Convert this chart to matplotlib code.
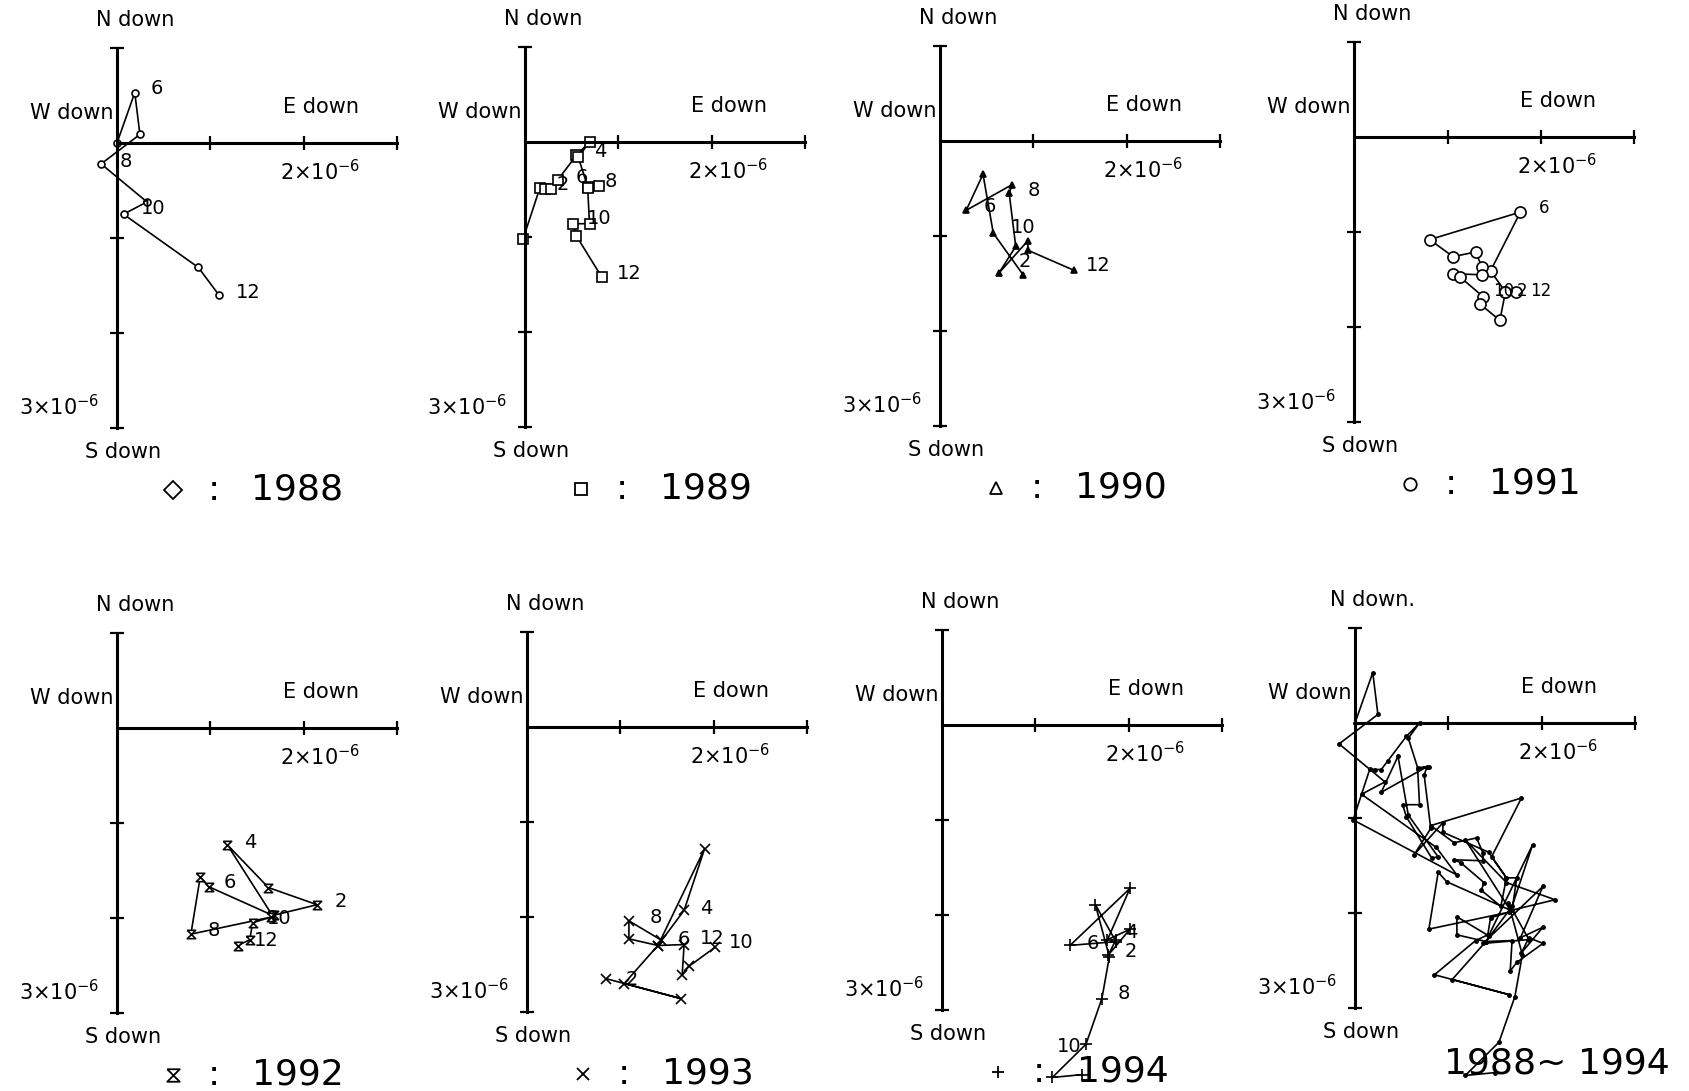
import matplotlib
matplotlib.use('Agg')
import matplotlib.pyplot as plt

plt.rcParams['font.family'] = 'DejaVu Sans'
plt.rcParams['mathtext.fontset'] = 'dejavusans'

# tilt vectors, units of 1e-6 (x: east down, y: north down)
x1988 = [0.0, 0.19, 0.245, -0.17, 0.32, 0.07, 0.87, 1.09]
y1988 = [0.0, 0.53, 0.09, -0.22, -0.62, -0.75, -1.31, -1.60]
x1989 = [-0.02, 0.16, 0.21, 0.28, 0.35, 0.55, 0.69, 0.57, 0.67, 0.79, 0.67, 0.69, 0.51, 0.55, 0.82]
y1989 = [-1.02, -0.48, -0.49, -0.49, -0.40, -0.14, 0.0, -0.16, -0.47, -0.46, -0.48, -0.86, -0.86, -0.99, -1.42]
x1990 = [0.89, 0.57, 0.46, 0.28, 0.77, 0.74, 0.81, 0.63, 0.94, 0.94, 1.43]
y1990 = [-1.41, -0.97, -0.35, -0.73, -0.46, -0.55, -1.11, -1.39, -1.05, -1.15, -1.36]
x1991 = [1.62, 1.46, 1.78, 0.81, 1.06, 1.30, 1.37, 1.37, 1.06, 1.13, 1.38, 1.35, 1.56, 1.62, 1.73]
y1991 = [-1.63, -1.41, -0.79, -1.08, -1.26, -1.21, -1.37, -1.45, -1.44, -1.47, -1.68, -1.76, -1.93, -1.63, -1.63]
x1992 = [1.68, 2.14, 1.62, 1.18, 1.66, 0.98, 0.89, 0.79, 1.65, 1.45, 1.42, 1.29]
y1992 = [-1.97, -1.86, -1.68, -1.23, -1.97, -1.67, -1.57, -2.17, -1.99, -2.05, -2.23, -2.29]
x1993 = [0.85, 1.65, 1.04, 1.40, 1.68, 1.90, 1.43, 1.09, 1.09, 1.40, 1.68, 1.66, 1.73, 2.01]
y1993 = [-2.65, -2.86, -2.70, -2.30, -1.93, -1.28, -2.24, -2.04, -2.23, -2.30, -2.29, -2.61, -2.52, -2.32]
x1994 = [1.86, 1.78, 2.01, 1.77, 2.01, 1.37, 1.86, 1.64, 1.79, 1.71, 1.54, 1.18, 1.50]
y1994 = [-2.26, -2.42, -2.15, -2.26, -1.72, -2.32, -2.28, -1.89, -2.44, -2.88, -3.36, -3.71, -3.68]

# month labels
lab1988 = ['6', '8', '10', '12']
lx1988 = [0.43, 0.09, 0.39, 1.40]
ly1988 = [0.57, -0.19, -0.69, -1.57]
lab1989 = ['2', '4', '6', '8', '10', '12']
lx1989 = [0.40, 0.81, 0.61, 0.92, 0.79, 1.12]
ly1989 = [-0.45, -0.10, -0.37, -0.42, -0.80, -1.38]
lab1990 = ['2', '6', '8', '10', '12']
lx1990 = [0.91, 0.53, 1.00, 0.89, 1.69]
ly1990 = [-1.27, -0.69, -0.52, -0.91, -1.31]
lab1991 = ['6', '10', '2', '12']
lx1991 = [2.03, 1.60, 1.80, 2.00]
ly1991 = [-0.75, -1.62, -1.62, -1.62]
lab1992 = ['2', '4', '6', '8', '10', '12']
lx1992 = [2.39, 1.43, 1.21, 1.04, 1.73, 1.60]
ly1992 = [-1.83, -1.21, -1.63, -2.13, -2.01, -2.24]
lab1993 = ['2', '4', '6', '8', '10', '12']
lx1993 = [1.12, 1.92, 1.68, 1.38, 2.29, 1.98]
ly1993 = [-2.66, -1.91, -2.24, -2.01, -2.27, -2.23]
lab1994 = ['2', '4', '6', '8', '10']
lx1994 = [2.02, 2.02, 1.61, 1.94, 1.36]
ly1994 = [-2.38, -2.18, -2.30, -2.83, -3.38]

years = ['1988', '1989', '1990', '1991', '1992', '1993', '1994']

hourglass = [(-1, 1), (1, 1), (-1, -1), (1, -1), (-1, 1)]

W, H = 1690, 1091
UX, UY = 93.5, 95.0
origins = [(117, 143), (525, 142), (940, 141), (1354, 137),
           (117, 728), (527, 727), (942, 725), (1355, 723)]

fig = plt.figure(figsize=(W / 100, H / 100), dpi=100)


def make_axes(ox, oy, ntext='N down'):
    x0, x1, y0, y1 = -1.3, 3.3, -4.1, 1.6
    left = (ox + x0 * UX) / W
    top = oy - y1 * UY
    h = (y1 - y0) * UY
    ax = fig.add_axes([left, 1 - (top + h) / H, (x1 - x0) * UX / W, h / H])
    ax.set_xlim(x0, x1)
    ax.set_ylim(y0, y1)
    ax.patch.set_visible(False)
    for s in ['top', 'right']:
        ax.spines[s].set_visible(False)
    ax.spines['left'].set_position(('data', 0))
    ax.spines['bottom'].set_position(('data', 0))
    ax.spines['left'].set_bounds(-3, 1)
    ax.spines['bottom'].set_bounds(0, 3)
    ax.spines['left'].set_linewidth(2.2)
    ax.spines['bottom'].set_linewidth(2.2)
    ax.set_xticks([1, 2, 3])
    ax.set_yticks([1, -1, -2, -3])
    ax.tick_params(direction='inout', length=10, width=1.6,
                   labelbottom=False, labelleft=False)
    fs = 15
    ax.text(0.19, 1.29, ntext, ha='center', va='center', fontsize=fs)
    ax.text(-0.04, 0.32, 'W down', ha='right', va='center', fontsize=fs)
    ax.text(2.18, 0.38, 'E down', ha='center', va='center', fontsize=fs)
    ax.text(2.17, -0.30, r'$2{\times}10^{-6}$', ha='center', va='center', fontsize=fs)
    ax.text(-0.62, -2.78, r'$3{\times}10^{-6}$', ha='center', va='center', fontsize=fs)
    ax.text(0.07, -3.25, 'S down', ha='center', va='center', fontsize=fs)
    return ax


xs = [x1988, x1989, x1990, x1991, x1992, x1993, x1994]
ys = [y1988, y1989, y1990, y1991, y1992, y1993, y1994]
labs = [lab1988, lab1989, lab1990, lab1991, lab1992, lab1993, lab1994]
lxs = [lx1988, lx1989, lx1990, lx1991, lx1992, lx1993, lx1994]
lys = [ly1988, ly1989, ly1990, ly1991, ly1992, ly1993, ly1994]
markers = ['o', 's', '^', 'o', hourglass, 'x', '+']
msizes = [5, 7, 5, 8, 6, 7, 9]
mfcs = ['white', 'white', 'black', 'white', 'white', 'black', 'black']
tmarkers = ['D', 's', '^', 'o', hourglass, 'x', '+']

for i, yr in enumerate(years):
    ox, oy = origins[i]
    ax = make_axes(ox, oy)
    ax.plot(xs[i], ys[i], color='black', lw=1.2, marker=markers[i], ms=msizes[i],
            mfc=mfcs[i], mec='black', mew=1.2, clip_on=False)
    lfs = 12 if yr == '1991' else 14
    for t, lx, ly in zip(labs[i], lxs[i], lys[i]):
        ax.text(lx, ly, t, ha='center', va='center', fontsize=lfs)
    ax.plot([0.6], [-3.65], marker=tmarkers[i], ms=9, mfc='white', mec='black',
            mew=1.3, color='black', clip_on=False)
    ax.text(1.04, -3.65, ':', ha='center', va='center', fontsize=26)
    ax.text(1.93, -3.65, yr, ha='center', va='center', fontsize=26)

# all years together
ox, oy = origins[7]
ax = make_axes(ox, oy, 'N down.')
allx = [v for lst in xs for v in lst]
ally = [v for lst in ys for v in lst]
ax.plot(allx, ally, color='black', lw=1.2, marker='o', ms=2.5, clip_on=False)
ax.text(2.16, -3.58, '1988~ 1994', ha='center', va='center', fontsize=26)

fig.savefig('out.png', dpi=100, facecolor='white')
